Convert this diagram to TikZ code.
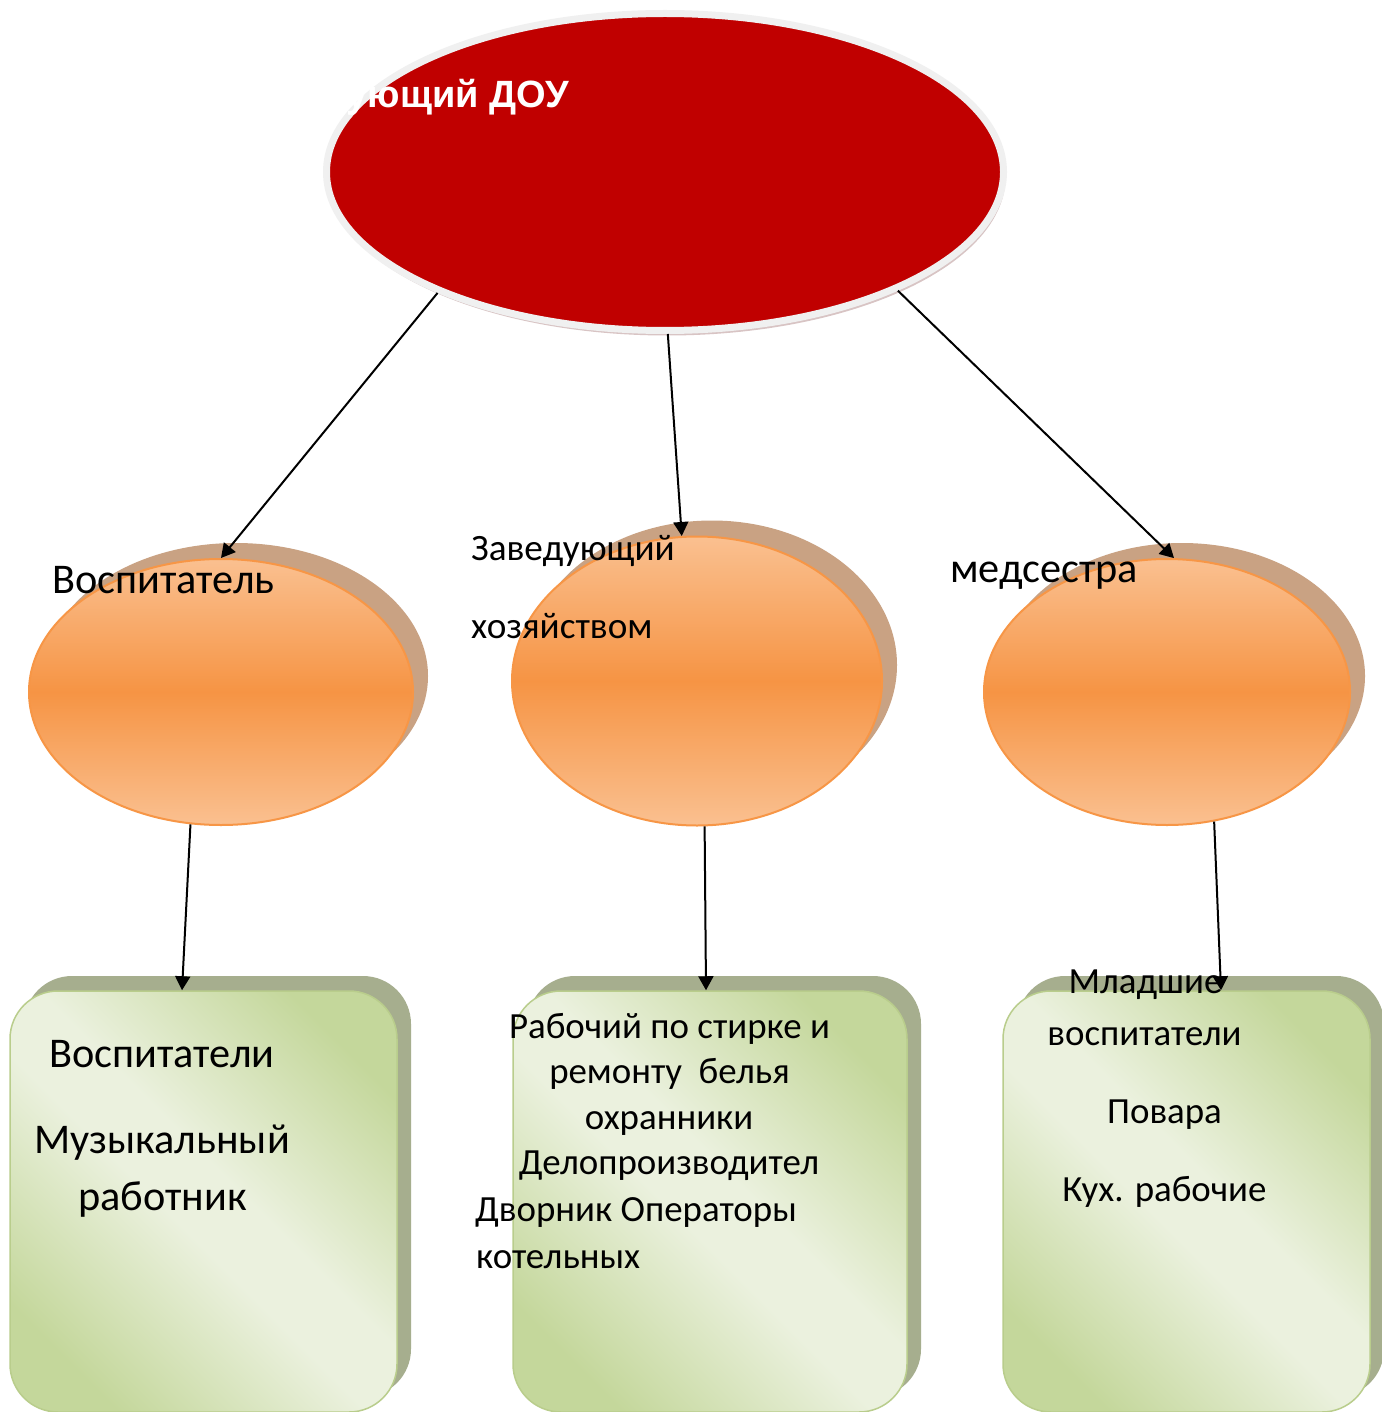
\documentclass[tikz,border=0pt]{standalone}
\usepackage{fontspec}
\setmainfont{Carlito}
\newfontfamily\titlefont{Liberation Sans}
\usetikzlibrary{shapes.geometric,shadows,arrows.meta}
\definecolor{redfill}{RGB}{192,0,0}
\definecolor{ringgray}{RGB}{240,240,240}
\definecolor{ringshadow}{RGB}{216,196,196}
\definecolor{oLight}{RGB}{250,192,144}
\definecolor{oMid}{RGB}{246,148,68}
\definecolor{oBorder}{RGB}{247,150,70}
\definecolor{oShadow}{RGB}{201,162,131}
\definecolor{gLight}{RGB}{235,241,222}
\definecolor{gDark}{RGB}{196,215,155}
\definecolor{gBorder}{RGB}{185,205,140}
\definecolor{gShadow}{RGB}{166,174,142}
\pgfdeclareverticalshading{orangeshade}{100bp}{color(0bp)=(oLight); color(25bp)=(oLight); color(50bp)=(oMid); color(75bp)=(oLight); color(100bp)=(oLight)}
\pgfdeclarehorizontalshading{greenshade}{100bp}{color(0bp)=(gDark); color(24bp)=(gDark); color(46bp)=(gLight); color(54bp)=(gLight); color(76bp)=(gDark); color(100bp)=(gDark)}
\begin{document}
\begin{tikzpicture}[x=1pt,y=-1pt,
  arr/.style={line width=2pt, -{Triangle[length=14pt,width=15pt]}},
  bigell/.style={ellipse, draw=ringgray, line width=7pt, fill=redfill, inner sep=0pt,
     minimum width=677pt, minimum height=317pt,
     drop shadow={shadow xshift=2pt, shadow yshift=-5pt, fill=ringshadow, opacity=1}},
  oell/.style={ellipse, draw=oBorder, line width=2pt, shade, shading=orangeshade, inner sep=0pt,
     drop shadow={shadow xshift=15pt, shadow yshift=16pt, fill=oShadow, opacity=1}},
  gbox/.style={rectangle, rounded corners=48pt, draw=gBorder, line width=1.5pt, shade, shading=greenshade,
     shading angle=45, inner sep=0pt,
     drop shadow={shadow xshift=14pt, shadow yshift=15pt, fill=gShadow, opacity=1}},
  lbl/.style={inner sep=0pt, text=black},
  fbig/.style={font=\fontsize{42.3}{50}\selectfont},
  fmid/.style={font=\fontsize{37.2}{44}\selectfont},
  fsmall/.style={font=\fontsize{36.9}{44}\selectfont},
]
\useasboundingbox (0,0) rectangle (1381,1412);
\fill[white] (0,0) rectangle (1381,1412);

% shapes
\node[bigell] (top) at (665,172) {};
\node[oell, minimum width=384pt, minimum height=266pt] (e1) at (221,692) {};
\node[oell, minimum width=370pt, minimum height=289pt] (e2) at (697,681) {};
\node[oell, minimum width=366pt, minimum height=266pt] (e3) at (1167,692) {};
\node[gbox, minimum width=387pt, minimum height=421pt] (b1) at (203.5,1201.5) {};
\node[gbox, minimum width=394pt, minimum height=421pt] (b2) at (710,1201.5) {};
\node[gbox, minimum width=367pt, minimum height=421pt] (b3) at (1186.5,1201.5) {};

% connectors
\draw[arr] (top.-152.5) -- (e1.north);
\draw[arr] (top.-89) -- (e2.96);
\draw[arr] (top.-27.2) -- (e3.87);
\draw[arr] (e1.-103.4) -- ([xshift=-21.5pt]b1.north);
\draw[arr] (e2.-87.6) -- ([xshift=-4pt]b2.north);
\draw[arr] (e3.-70) -- ([xshift=34.5pt]b3.north);

% texts
\node[lbl, text=white, font=\titlefont\bfseries\fontsize{38}{46}\selectfont, anchor=base east] (title) at (569,108) {Заведующий ДОУ};
\node[lbl, fbig, anchor=base west] (t1) at (52,593) {Воспитатель};
\node[lbl, fmid, anchor=base west] (t2a) at (471,560) {Заведующий};
\node[lbl, fmid, anchor=base west] (t2b) at (471,638) {хозяйством};
\node[lbl, fbig, anchor=base west] (t3) at (950,582) {медсестра};

\node[lbl, fbig, anchor=base] (p1a) at (162,1067) {Воспитатели};
\node[lbl, fbig, anchor=base] (p1b) at (162,1153) {Музыкальный};
\node[lbl, fbig, anchor=base] (p1c) at (162.5,1210) {работник};

\node[lbl, fsmall, anchor=base] (p2a) at (669.5,1038) {Рабочий по стирке и};
\node[lbl, fsmall, anchor=base] (p2b) at (669.5,1083) {ремонту\ \ белья};
\node[lbl, fsmall, anchor=base] (p2c) at (669,1129) {охранники};
\node[lbl, fsmall, anchor=base] (p2d) at (669,1174) {Делопроизводител};
\node[lbl, fsmall, anchor=base west] (p2e) at (475,1221) {Дворник Операторы};
\node[lbl, fsmall, anchor=base west] (p2f) at (476,1268) {котельных};

\node[lbl, fsmall, anchor=base] (p3a) at (1145.5,993) {Младшие};
\node[lbl, fsmall, anchor=base] (p3b) at (1144.5,1045) {воспитатели};
\node[lbl, fsmall, anchor=base] (p3c) at (1164.5,1123) {Повара};
\node[lbl, fsmall, anchor=base] (p3d) at (1164.5,1201) {Кух. рабочие};
\end{tikzpicture}
\end{document}
